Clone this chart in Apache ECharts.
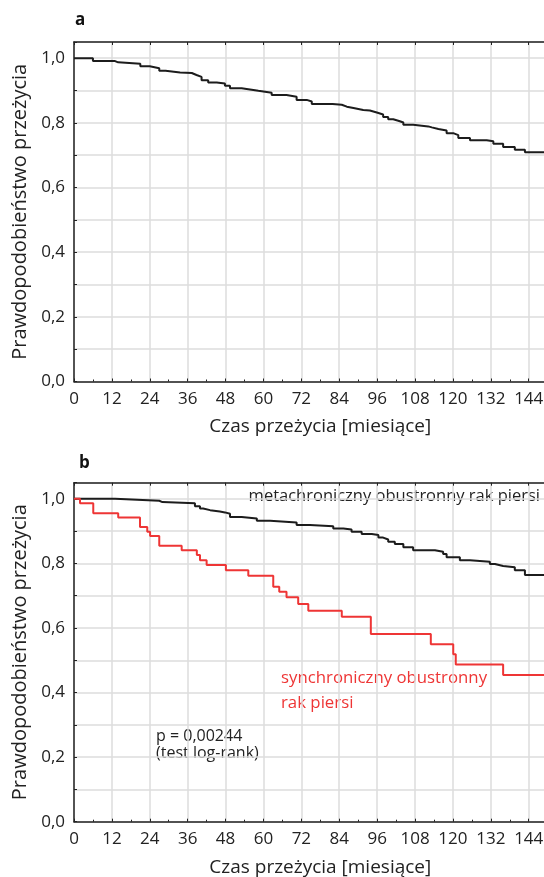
<!DOCTYPE html>
<html>
<head>
<meta charset="utf-8">
<script src="https://cdn.jsdelivr.net/npm/echarts@6/dist/echarts.min.js"></script>
<style>
  html, body { margin: 0; padding: 0; background: #fff; }
  #chart { width: 544px; height: 877px; }
</style>
</head>
<body>
<div id="chart"></div>
<script>
// panel a - wszyscy chorzy
var timeA = [0, 6, 13, 14, 21, 24, 27, 29, 33.6, 37.3, 38.8, 40.4, 42.5, 45.2, 47.8, 49.4, 53.1, 55.2, 58.4, 62.6, 67.3, 70.5, 73.7,
  75.3, 81.9, 84.8, 86.4, 88.5, 91.6, 93.7, 95.9, 97.9, 99.5, 101.1, 103.2, 104.3, 107.4, 112.2, 113.3, 115.4, 118, 120.1, 121.7,
  125.4, 130.7, 132.8, 135.9, 139.6, 142.8, 150];
var survA = [1.0, 0.991, 0.987, 0.983, 0.975, 0.969, 0.961, 0.956, 0.954, 0.948, 0.942, 0.932, 0.925, 0.922, 0.915, 0.907, 0.904, 0.899, 0.893, 0.886, 0.881, 0.871, 0.866,
  0.858, 0.856, 0.850, 0.846, 0.840, 0.838, 0.832, 0.826, 0.818, 0.811, 0.805, 0.801, 0.794, 0.789, 0.786, 0.781, 0.776, 0.768, 0.762, 0.753,
  0.746, 0.743, 0.735, 0.725, 0.717, 0.709, 0.709];

// panel b - metachroniczny
var timeMeta = [0, 13, 27, 28, 38.3, 39.9, 40.9, 43.1, 46.2, 47.8, 49.4, 53.1, 57.9, 62.1, 70.5, 74.7, 82.1, 85.3, 87.9, 91.1, 94.3,
  96.4, 97.9, 99.5, 101.6, 104.3, 107.4, 114.3, 116.9, 118, 122.2, 125.4, 131.7, 133.3, 135.9, 139.6, 142.8, 150];
var survMeta = [1.0, 0.994, 0.990, 0.986, 0.977, 0.970, 0.965, 0.961, 0.958, 0.954, 0.944, 0.939, 0.932, 0.927, 0.919, 0.915, 0.908, 0.905, 0.898, 0.891, 0.888,
  0.880, 0.874, 0.867, 0.860, 0.850, 0.841, 0.836, 0.829, 0.819, 0.810, 0.805, 0.798, 0.792, 0.788, 0.779, 0.764, 0.764];

// panel b - synchroniczny
var timeSyn = [0, 1.9, 6.1, 14, 20.9, 23.2, 24.1, 27, 34.1, 38.9, 39.9, 42, 48.1, 55.2, 63.1, 65, 67.3, 71, 74.2, 84.8, 94, 113, 120.1, 120.9, 135.9, 150];
var survSyn = [1.0, 0.986, 0.955, 0.942, 0.913, 0.898, 0.885, 0.855, 0.841, 0.826, 0.810, 0.795, 0.779, 0.762, 0.728, 0.712, 0.695, 0.674, 0.653, 0.635, 0.581, 0.550, 0.519, 0.487, 0.454, 0.454];

var xTicks = [0, 12, 24, 36, 48, 60, 72, 84, 96, 108, 120, 132, 144];
var yLabels = ['0,0', '0,2', '0,4', '0,6', '0,8', '1,0'];

var FONT = '"Open Sans", "Noto Sans", sans-serif';
var gridColor = '#dcdcdc';

function zip(t, s) {
  return t.map(function (v, i) { return [v, s[i]]; });
}

function yLab(v) {
  var k = Math.round(v * 5);
  if (Math.abs(v * 5 - k) > 1e-6) return '';
  return yLabels[k] || '';
}

function bottomX(idx) {
  return {
    type: 'value', gridIndex: idx, min: 0, max: 156, interval: 12,
    name: 'Czas przeżycia [miesiące]', nameLocation: 'middle', nameGap: 36,
    nameTextStyle: { fontFamily: FONT, fontSize: 19, color: '#222' },
    axisLine: { show: true, onZero: false, lineStyle: { color: '#222', width: 1.5 } },
    axisTick: { show: true, inside: true, length: 3, lineStyle: { color: '#222' } },
    minorTick: { show: true, splitNumber: 2, length: 2, lineStyle: { color: '#222' } },
    axisLabel: {
      margin: 9, fontFamily: FONT, fontSize: 17, color: '#222',
      formatter: function (v) { return xTicks.indexOf(v) >= 0 ? String(v) : ''; }
    },
    splitLine: { show: true, lineStyle: { color: gridColor, width: 1.5 } }
  };
}

function topX(idx) {
  return {
    type: 'value', gridIndex: idx, position: 'top', min: 0, max: 156, interval: 12,
    axisLine: { show: true, onZero: false, lineStyle: { color: '#222', width: 1.5 } },
    axisTick: { show: true, inside: true, length: 3, lineStyle: { color: '#222' } },
    axisLabel: { show: false },
    splitLine: { show: false }
  };
}

function leftY(idx) {
  return {
    type: 'value', gridIndex: idx, min: 0, max: 1.05, interval: 0.1,
    name: 'Prawdopodobieństwo przeżycia', nameLocation: 'middle', nameGap: 42,
    nameTextStyle: { fontFamily: FONT, fontSize: 20, color: '#222' },
    axisLine: { show: true, onZero: false, lineStyle: { color: '#222', width: 1.5 } },
    axisTick: { show: true, inside: true, length: 3, lineStyle: { color: '#222' } },
    axisLabel: { margin: 9, fontFamily: FONT, fontSize: 17, color: '#222', formatter: yLab },
    splitLine: { show: true, lineStyle: { color: gridColor, width: 1.5 } }
  };
}

function km(name, xi, yi, data, color) {
  return {
    name: name, type: 'line', step: 'end', xAxisIndex: xi, yAxisIndex: yi,
    data: data, showSymbol: false, symbol: 'none', silent: true,
    lineStyle: { color: color, width: 2 }
  };
}

var chart = echarts.init(document.getElementById('chart'), null, { renderer: 'canvas' });
chart.setOption({
  backgroundColor: '#fff',
  animation: false,
  textStyle: { fontFamily: FONT },
  title: [
    { text: 'a', left: 70, top: 7, textStyle: { fontFamily: FONT, fontSize: 17, fontWeight: 'bold', color: '#111' } },
    { text: 'b', left: 74, top: 450, textStyle: { fontFamily: FONT, fontSize: 17, fontWeight: 'bold', color: '#111' } }
  ],
  grid: [
    { left: 74, top: 42, width: 492.6, height: 339.5, outerBoundsMode: 'none', containLabel: false },
    { left: 74, top: 482.7, width: 492.6, height: 339, outerBoundsMode: 'none', containLabel: false }
  ],
  xAxis: [bottomX(0), topX(0), bottomX(1), topX(1)],
  yAxis: [leftY(0), leftY(1)],
  series: [
    km('wszyscy', 0, 0, zip(timeA, survA), '#1c1c1c'),
    km('metachroniczny obustronny rak piersi', 2, 1, zip(timeMeta, survMeta), '#1c1c1c'),
    km('synchroniczny obustronny rak piersi', 2, 1, zip(timeSyn, survSyn), '#ee3535')
  ],
  graphic: [
    { type: 'text', right: 4, top: 488, style: { text: 'metachroniczny obustronny rak piersi', fontFamily: FONT, fontSize: 16.5, fill: '#222' } },
    { type: 'text', left: 281, top: 666, style: { text: 'synchroniczny obustronny\nrak piersi', fontFamily: FONT, fontSize: 16.8, lineHeight: 25, fill: '#ee3535' } },
    { type: 'text', left: 156, top: 728, style: { text: 'p = 0,00244\n(test log-rank)', fontFamily: FONT, fontSize: 16, lineHeight: 17, fill: '#222' } }
  ]
});
</script>
</body>
</html>
